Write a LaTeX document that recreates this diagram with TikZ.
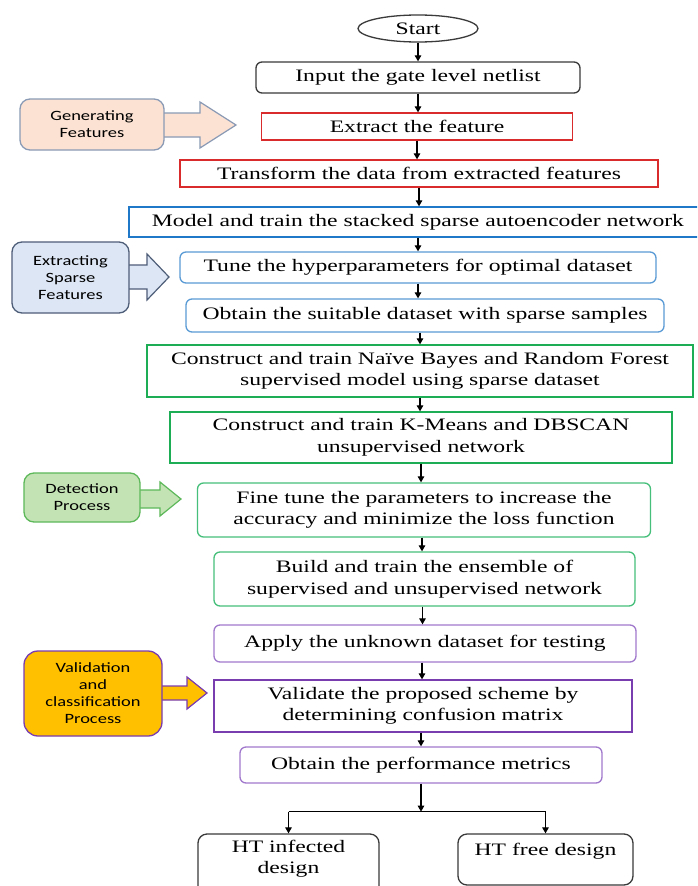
\documentclass[tikz,border=0pt]{standalone}
\usepackage{fontspec}
\setmainfont{Liberation Serif}[FakeStretch=1.35]
\newfontfamily\calloutfont{Carlito}[FakeStretch=1.3]
\usetikzlibrary{arrows.meta,shapes.geometric}

\definecolor{redline}{HTML}{D92B2B}
\definecolor{blueline}{HTML}{1F78C8}
\definecolor{lightblueline}{HTML}{5B9BD5}
\definecolor{greenline}{HTML}{1DAE55}
\definecolor{lightgreenline}{HTML}{45BF7A}
\definecolor{purpleline}{HTML}{7A3DB0}
\definecolor{lightpurpleline}{HTML}{A078CC}
\definecolor{darkline}{HTML}{3A3A3A}
\definecolor{peachfill}{HTML}{FBE2D3}
\definecolor{peachline}{HTML}{8A9AB5}
\definecolor{skyfill}{HTML}{DCE6F4}
\definecolor{skyline}{HTML}{4E5D78}
\definecolor{mintfill}{HTML}{C4E3B5}
\definecolor{mintline}{HTML}{5DB85A}
\definecolor{goldfill}{HTML}{FFC000}
\definecolor{goldline}{HTML}{7A3DB0}

\tikzset{
  box/.style={draw, line width=1.3pt, align=center, inner sep=0pt,
    font=\fontsize{17.5}{21.5}\selectfont},
  rbox/.style={box, rounded corners=6pt},
  call/.style={draw, line width=1.3pt, rounded corners=10pt, align=center,
    inner sep=0pt, font=\calloutfont\fontsize{14.2}{17}\selectfont},
  blockarrow/.style={line width=1.2pt, line join=miter},
  arr/.style={-{Triangle[length=6pt,width=6.5pt]}, line width=1.2pt},
  plain/.style={line width=1.2pt}
}

\begin{document}
\begin{tikzpicture}[x=1pt,y=-1pt]
\useasboundingbox (0,0) rectangle (697,886);
\clip (0,0) rectangle (697,886);
\fill[white] (0,0) rectangle (697,886);

% main flow
\node[ellipse, draw=darkline, line width=1.3pt, minimum width=120pt, minimum height=27pt,
      inner sep=0pt, font=\fontsize{17.5}{21.5}\selectfont] (start) at (418,28.5) {Start};
\node[rbox, draw=darkline, minimum width=324pt, minimum height=31pt] (input) at (418,77.5)
  {Input the gate level netlist};
\node[box, draw=redline, minimum width=311pt, minimum height=27pt] (extract) at (417,126.5)
  {Extract the feature};
\node[box, draw=redline, minimum width=478pt, minimum height=27pt] (transform) at (419,173.5)
  {Transform the data from extracted features};
\node[box, draw=blueline, minimum width=578pt, minimum height=30pt] (model) at (418,222)
  {Model and train the stacked sparse autoencoder network};
\node[rbox, draw=lightblueline, minimum width=476pt, minimum height=31pt] (tune) at (418,267.5)
  {Tune the hyperparameters for optimal dataset};
\node[rbox, draw=lightblueline, minimum width=478pt, minimum height=33pt] (suitable) at (425,315.5)
  {Obtain the suitable dataset with sparse samples};
\node[box, draw=greenline, minimum width=546pt, minimum height=52pt] (nb) at (420,371)
  {Construct and train Naïve Bayes and Random Forest\\supervised model using sparse dataset};
\node[box, draw=greenline, minimum width=502pt, minimum height=51pt] (km) at (421,437.5)
  {Construct and train K-Means and DBSCAN\\unsupervised network};
\node[rbox, draw=lightgreenline, minimum width=453pt, minimum height=54pt] (fine) at (424,510)
  {Fine tune the parameters to increase the\\accuracy and minimize the loss function};
\node[rbox, draw=lightgreenline, minimum width=421pt, minimum height=54pt] (build) at (424.5,579)
  {Build and train the ensemble of\\supervised and unsupervised network};
\node[rbox, draw=lightpurpleline, minimum width=422pt, minimum height=37pt] (apply) at (425,643.5)
  {Apply the unknown dataset for testing};
\node[box, draw=purpleline, minimum width=418pt, minimum height=52pt] (valid) at (423,706)
  {Validate the proposed scheme by\\determining confusion matrix};
\node[rbox, draw=lightpurpleline, minimum width=362pt, minimum height=36pt] (perf) at (421,765)
  {Obtain the performance metrics};

% outcome boxes
\node[rbox, draw=darkline, rounded corners=9pt, minimum width=181pt, minimum height=66pt] (htinf) at (288.5,867) {};
\node[box, draw=none, anchor=north] (htinftext) at ([yshift=-6pt]htinf.north) {HT infected\\design};
\node[rbox, draw=darkline, rounded corners=9pt, minimum width=175pt, minimum height=51pt] (htfree) at (545.5,859.5) {};
\node[box, draw=none, anchor=north] (htfreetext) at ([yshift=-9pt]htfree.north) {HT free design};

% connectors
\draw[arr] (start.south) -- (start.south |- input.north);
\draw[arr] (input.south) -- (input.south |- extract.north);
\draw[arr] (extract.south) -- (extract.south |- transform.north);
\draw[arr] (transform.south) -- (transform.south |- model.north);
\draw[arr] (model.south) -- (model.south |- tune.north);
\draw[arr] (tune.south) -- (tune.south |- suitable.north);
\draw[arr] ([xshift=-5pt]suitable.south) -- ([xshift=-5pt]suitable.south |- nb.north);
\draw[arr] (nb.south) -- (nb.south |- km.north);
\draw[arr] (km.south) -- (km.south |- fine.north);
\draw[arr] ([xshift=-2pt]fine.south) -- ([xshift=-2pt]fine.south |- build.north);
\draw[arr] ([xshift=-2pt]build.south) -- ([xshift=-2pt]build.south |- apply.north);
\draw[arr] ([xshift=-3pt]apply.south) -- ([xshift=-3pt]apply.south |- valid.north);
\draw[arr] ([xshift=-2pt]valid.south) -- ([xshift=-2pt]valid.south |- perf.north);
\coordinate (split) at ([yshift=-28pt]perf.south);
\draw[arr] (perf.south) -- (split);
\draw[plain] (htinf.north |- split) -- (htfree.north |- split);
\draw[arr] (htinf.north |- split) -- (htinf.north);
\draw[arr] (htfree.north |- split) -- (htfree.north);

% stage callouts with their block arrows
\draw[blockarrow, fill=peachfill, draw=peachline]
  (160,113) -- (200,113) -- (200,102) -- (236,125) -- (200,148) -- (200,137) -- (160,137) -- cycle;
\node[call, fill=peachfill, draw=peachline, minimum width=144pt, minimum height=51pt] (gen) at (92,124.5)
  {Generating\\Features};

\draw[blockarrow, fill=skyfill, draw=skyline]
  (125,265) -- (147,265) -- (147,254) -- (169,277) -- (147,300) -- (147,289) -- (125,289) -- cycle;
\node[call, fill=skyfill, draw=skyline, minimum width=117pt, minimum height=71pt] (ext) at (70.5,277.5)
  {Extracting\\Sparse\\Features};

\draw[blockarrow, fill=mintfill, draw=mintline]
  (136,490) -- (160,490) -- (160,482) -- (181,499) -- (160,516) -- (160,508) -- (136,508) -- cycle;
\node[call, fill=mintfill, draw=mintline, minimum width=116pt, minimum height=49pt] (det) at (82,497.5)
  {Detection\\Process};

\draw[blockarrow, fill=goldfill, draw=goldline]
  (158,686) -- (187,686) -- (187,677) -- (207,693) -- (187,709) -- (187,700) -- (158,700) -- cycle;
\node[call, fill=goldfill, draw=goldline, rounded corners=14pt, minimum width=138pt, minimum height=85pt] (val) at (93,693.5)
  {Validation\\and\\classification\\Process};
\end{tikzpicture}
\end{document}
